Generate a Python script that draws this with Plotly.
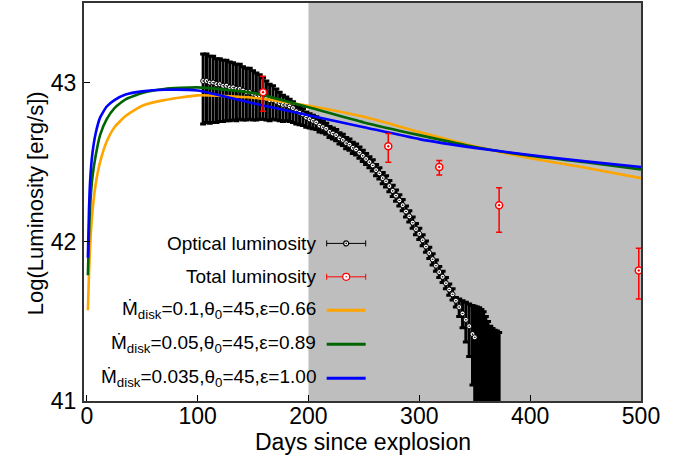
import plotly.graph_objects as go

# ---------------- data ----------------
# Optical luminosity (days since explosion, log L, upper / lower errors)
opt_days = [105, 108, 111, 114, 117, 120, 123, 126, 129, 132, 135, 138, 141, 144, 147, 150,
            153, 156, 159, 162, 165, 168, 171, 174, 177, 180, 183, 186, 189, 192, 195, 198,
            201, 204, 207, 210, 213, 216, 219, 222, 225, 228, 231, 234, 237, 240, 243, 246,
            249, 252, 255, 258, 261, 264, 267, 270, 273, 276, 279, 282, 285, 288, 291, 294,
            297, 300, 303, 306, 309, 312, 315, 318, 321, 324, 327, 330, 333, 336, 339, 342,
            345, 348, 350,
            352, 354, 356, 358, 360, 362, 364, 366, 368, 370, 372]
opt_lum = [43.01, 43.01, 43.00, 43.00, 42.99, 42.99, 42.98, 42.98, 42.97, 42.97, 42.96, 42.96,
           42.95, 42.94, 42.94, 42.93, 42.92, 42.92, 42.91, 42.90, 42.89, 42.89, 42.88, 42.87,
           42.86, 42.86, 42.85, 42.84, 42.82, 42.81, 42.80, 42.78, 42.77, 42.76, 42.75, 42.73,
           42.72, 42.71, 42.69, 42.68, 42.67, 42.65, 42.64, 42.62, 42.61, 42.59, 42.58, 42.56,
           42.54, 42.52, 42.50, 42.48, 42.45, 42.43, 42.40, 42.38, 42.35, 42.32, 42.29, 42.26,
           42.23, 42.19, 42.16, 42.12, 42.08, 42.05, 42.01, 41.97, 41.93, 41.89, 41.85, 41.81,
           41.78, 41.74, 41.70, 41.67, 41.63, 41.59, 41.55, 41.51, 41.47, 41.42, 41.40,
           40.90, 40.90, 40.90, 40.90, 40.90, 40.90, 40.90, 40.90, 40.90, 40.90, 40.90]
opt_err_up = [0.17, 0.17, 0.165, 0.165, 0.16, 0.16, 0.16, 0.16, 0.16, 0.155, 0.155, 0.155,
              0.15, 0.15, 0.15, 0.145, 0.14, 0.13, 0.12, 0.11, 0.10, 0.09, 0.08, 0.07,
              0.06, 0.05, 0.045, 0.04, 0.035, 0.035, 0.035, 0.035, 0.035, 0.035, 0.035, 0.035,
              0.035, 0.035, 0.035, 0.035, 0.035, 0.035, 0.035, 0.035, 0.035, 0.035, 0.035, 0.035,
              0.035, 0.035, 0.035, 0.035, 0.035, 0.035, 0.035, 0.035, 0.035, 0.035, 0.035, 0.035,
              0.035, 0.035, 0.035, 0.035, 0.035, 0.035, 0.035, 0.035, 0.035, 0.035, 0.035, 0.035,
              0.035, 0.035, 0.035, 0.035, 0.02, 0.05, 0.08, 0.11, 0.14, 0.18, 0.195,
              0.69, 0.685, 0.675, 0.66, 0.63, 0.60, 0.57, 0.555, 0.545, 0.54, 0.53]
opt_err_down = [0.27, 0.26, 0.255, 0.25, 0.24, 0.235, 0.225, 0.22, 0.21, 0.205, 0.20, 0.19,
                0.185, 0.175, 0.17, 0.165, 0.155, 0.15, 0.14, 0.135, 0.13, 0.12, 0.115, 0.11,
                0.105, 0.10, 0.095, 0.09, 0.08, 0.075, 0.07, 0.06, 0.055, 0.05, 0.045, 0.04,
                0.035, 0.035, 0.035, 0.035, 0.035, 0.035, 0.035, 0.035, 0.035, 0.035, 0.035, 0.035,
                0.035, 0.035, 0.035, 0.035, 0.035, 0.035, 0.035, 0.035, 0.035, 0.035, 0.035, 0.035,
                0.035, 0.035, 0.035, 0.035, 0.035, 0.035, 0.035, 0.035, 0.035, 0.035, 0.035, 0.035,
                0.035, 0.035, 0.035, 0.035, 0.04, 0.06, 0.09, 0.14, 0.19, 0.32, 0.45,
                0.5, 0.5, 0.5, 0.5, 0.5, 0.5, 0.5, 0.5, 0.5, 0.5, 0.5]

# Total luminosity
tot_days = [159, 272, 318, 372, 498]
tot_lum = [42.94, 42.60, 42.47, 42.23, 41.82]
tot_err_up = [0.10, 0.08, 0.04, 0.11, 0.14]
tot_err_down = [0.12, 0.10, 0.05, 0.17, 0.18]

# Models
model_days = [1, 2, 3, 5, 8, 12, 18, 25, 35, 50, 70, 100, 150, 200, 250, 300, 350, 400, 450, 500]
model_a = [41.57, 41.80, 41.97, 42.18, 42.36, 42.50, 42.63, 42.72, 42.79, 42.855, 42.89, 42.92,
           42.905, 42.855, 42.785, 42.69, 42.60, 42.525, 42.465, 42.40]
model_b = [41.79, 42.05, 42.22, 42.40, 42.54, 42.67, 42.77, 42.84, 42.895, 42.935, 42.96, 42.97,
           42.935, 42.845, 42.75, 42.67, 42.595, 42.54, 42.50, 42.455]
model_c = [41.90, 42.20, 42.38, 42.55, 42.68, 42.78, 42.85, 42.89, 42.925, 42.945, 42.955, 42.95,
           42.87, 42.795, 42.72, 42.645, 42.59, 42.545, 42.505, 42.47]

labels = ["Optical luminosity", "Total luminosity",
          "Ṁ<sub>disk</sub>=0.1,θ<sub>0</sub>=45,ε=0.66",
          "Ṁ<sub>disk</sub>=0.05,θ<sub>0</sub>=45,ε=0.89",
          "Ṁ<sub>disk</sub>=0.035,θ<sub>0</sub>=45,ε=1.00"]
x_ticks = [0, 100, 200, 300, 400, 500]
y_ticks = [41, 42, 43]
shade_range = [200, 500]
x_title = "Days since explosion"
y_title = "Log(Luminosity [erg/s])"

# ---------------- figure ----------------
FONT = "Liberation Sans, Arial, Helvetica, sans-serif"
ORANGE, GREEN, BLUE, RED = "#ffa500", "#006400", "#0000ff", "#ff0000"

fig = go.Figure()

fig.add_trace(go.Scatter(
    x=opt_days, y=opt_lum, mode="markers", name=labels[0],
    marker=dict(symbol="circle-dot", size=5, color="white", line=dict(color="black", width=1)),
    error_y=dict(type="data", symmetric=False, array=opt_err_up, arrayminus=opt_err_down,
                 color="black", thickness=3, width=3),
    showlegend=False))

for vals, col, lab in [(model_a, ORANGE, labels[2]), (model_b, GREEN, labels[3]), (model_c, BLUE, labels[4])]:
    fig.add_trace(go.Scatter(x=model_days, y=vals, mode="lines", name=lab,
                             line=dict(color=col, width=2.6, shape="spline", smoothing=0.5),
                             showlegend=False))

fig.add_trace(go.Scatter(
    x=tot_days, y=tot_lum, mode="markers", name=labels[1],
    marker=dict(symbol="circle-dot", size=7, color="white", line=dict(color=RED, width=1.5)),
    error_y=dict(type="data", symmetric=False, array=tot_err_up, arrayminus=tot_err_down,
                 color=RED, thickness=1.5, width=3),
    showlegend=False))

shapes = [dict(type="rect", xref="x", yref="paper", x0=shade_range[0], x1=shade_range[1],
               y0=0, y1=1, fillcolor="#bebebe", line=dict(width=0), layer="below")]

# manual gnuplot-style legend (text right-aligned, sample on the right)
leg_y = [0.396, 0.312, 0.228, 0.1425, 0.057]
sx0, sx1, txt_x = 0.4357, 0.5057, 0.420
annotations = []
for yy, lab in zip(leg_y, labels):
    annotations.append(dict(x=txt_x, y=yy, xref="paper", yref="paper", text=lab,
                            showarrow=False, xanchor="right", yanchor="middle",
                            font=dict(family=FONT, size=19, color="black")))
sample_cols = ["black", RED, ORANGE, GREEN, BLUE]
for i, (yy, col) in enumerate(zip(leg_y, sample_cols)):
    w = 1 if i < 2 else 3
    shapes.append(dict(type="line", xref="paper", yref="paper", x0=sx0, x1=sx1, y0=yy, y1=yy,
                       line=dict(color=col, width=w)))
    if i < 2:
        for xx in (sx0, sx1):
            shapes.append(dict(type="line", xref="paper", yref="paper", ysizemode="pixel",
                               yanchor=yy, x0=xx, x1=xx, y0=-3, y1=3,
                               line=dict(color=col, width=1)))
        r = 2.5 if i == 0 else 3.5
        shapes.append(dict(type="circle", xref="paper", yref="paper", xsizemode="pixel",
                           ysizemode="pixel", xanchor=(sx0 + sx1) / 2, yanchor=yy,
                           x0=-r, x1=r, y0=-r, y1=r, fillcolor="white",
                           line=dict(color=col, width=1.2)))
        shapes.append(dict(type="circle", xref="paper", yref="paper", xsizemode="pixel",
                           ysizemode="pixel", xanchor=(sx0 + sx1) / 2, yanchor=yy,
                           x0=-0.8, x1=0.8, y0=-0.8, y1=0.8, fillcolor=col,
                           line=dict(color=col, width=0)))

# axis titles
annotations.append(dict(x=0.5, y=-0.103, xref="paper", yref="paper", text=x_title,
                        showarrow=False, xanchor="center", yanchor="middle",
                        font=dict(family=FONT, size=23, color="black")))
annotations.append(dict(x=-0.088, y=0.497, xref="paper", yref="paper", text=y_title,
                        showarrow=False, xanchor="center", yanchor="middle", textangle=-90,
                        font=dict(family=FONT, size=22, color="black")))

fig.update_layout(
    width=689, height=459,
    margin=dict(l=84, r=48, t=3, b=58, autoexpand=False),
    paper_bgcolor="white", plot_bgcolor="white",
    font=dict(family=FONT, size=23, color="black"),
    shapes=shapes, annotations=annotations, showlegend=False,
)
fig.update_xaxes(range=[-2.5, 500], tickvals=x_ticks, ticks="inside", ticklen=6, tickwidth=1,
                 tickcolor="black", showline=True, linecolor="#333333", linewidth=2, mirror=True,
                 showgrid=False, zeroline=False, automargin=False, ticklabelstandoff=-7)
fig.update_yaxes(range=[41, 43.5], tickvals=y_ticks, ticks="inside", ticklen=6, tickwidth=1,
                 tickcolor="black", showline=True, linecolor="#333333", linewidth=2, mirror=True,
                 showgrid=False, zeroline=False, automargin=False, ticklabelstandoff=1)

fig.write_html("out.html", config={"displayModeBar": False},
               post_script="document.body.style.margin='0';")
